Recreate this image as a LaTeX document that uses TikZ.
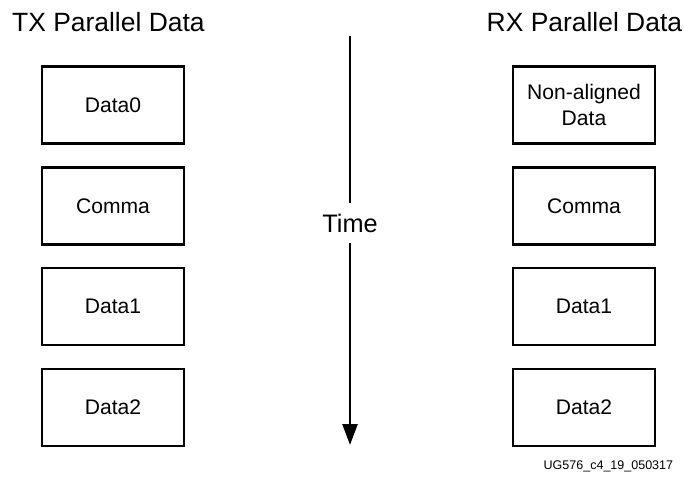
\documentclass[tikz,border=0pt]{standalone}
\usepackage{fontspec}
\setmainfont{Liberation Sans}
\usetikzlibrary{arrows.meta}

\begin{document}
\begin{tikzpicture}[font=\fontsize{15}{18}\selectfont, line width=1.8pt,
    databox/.style={draw, minimum width=3.55cm, minimum height=1.925cm, align=center, inner sep=0pt},
    coltitle/.style={font=\fontsize{18.8}{22}\selectfont}]
    \useasboundingbox (0,0) rectangle (17.1,12.125);
    % column titles
    \node[coltitle] (txtitle) at (2.71,11.575) {TX Parallel Data};
    \node[coltitle] (rxtitle) at (14.61,11.575) {RX Parallel Data};
    % TX words
    \node[databox] (tx0) at (2.825,9.5) {Data0};
    \node[databox] (tx1) at (2.825,6.98) {Comma};
    \node[databox] (tx2) at (2.825,4.46) {Data1};
    \node[databox] (tx3) at (2.825,1.94) {Data2};
    % RX words
    \node[databox] (rx0) at (14.6,9.5) {Non-aligned\\Data};
    \node[databox] (rx1) at (14.6,6.98) {Comma};
    \node[databox] (rx2) at (14.6,4.46) {Data1};
    \node[databox] (rx3) at (14.6,1.94) {Data2};
    % time axis
    \coordinate (tstart) at (8.75,11.225);
    \coordinate (tend) at (8.75,1.0);
    \node[font=\fontsize{18}{22}\selectfont, minimum height=1cm, inner sep=0pt, outer sep=0pt] (time) at (8.75,6.55) {Time};
    \draw (tstart) -- (time);
    \draw[-{Triangle[width=3.75mm,length=5.25mm]}] (time) -- (tend);
    \node[font=\fontsize{8.9}{10}\selectfont] (figid) at (15.21,0.475) {UG576\_c4\_19\_050317};
\end{tikzpicture}
\end{document}
